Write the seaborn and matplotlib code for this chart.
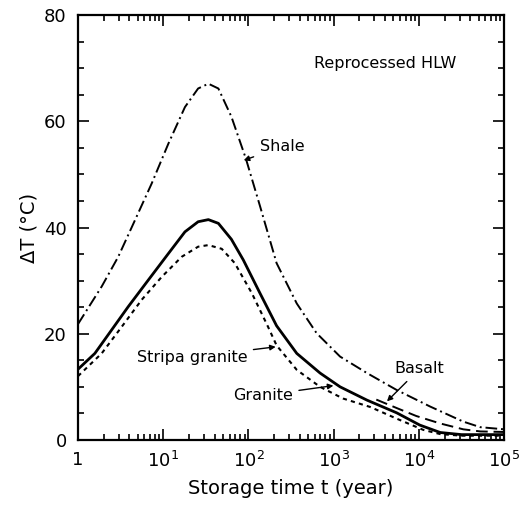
import numpy as np
import pandas as pd
import matplotlib
matplotlib.use("Agg")
import matplotlib.pyplot as plt
import seaborn as sns
from matplotlib.ticker import LogLocator, MultipleLocator, NullFormatter

sns.set_theme(style="ticks")
plt.rcParams['font.family'] = ['DejaVu Sans']
plt.rcParams['text.color'] = 'black'
plt.rcParams['axes.labelcolor'] = 'black'

# Data
shale_t = [1, 1.9, 2.97, 4.67, 7.33, 11.5, 18.0, 25.7, 33.9, 44.4, 63.1, 93.3, 137, 214,
           369, 631, 1189, 2455, 5495, 13490, 33110, 52480, 100000]
shale_dT = [21.8, 28.9, 34.5, 41.4, 48.3, 55.8, 62.7, 66.2, 67.1, 66.2, 60.9, 53.0, 44.0, 33.3,
            25.7, 20.1, 15.7, 12.6, 9.4, 6.3, 3.45, 2.4, 2.0]

granite_t = [1, 1.58, 2.48, 3.89, 6.68, 11.5, 18.0, 25.7, 33.9, 44.4, 63.1, 87.1, 137, 214,
             369, 692, 1189, 2455, 5495, 10230, 17780, 31620, 100000]
granite_dT = [13.3, 16.3, 20.7, 25.1, 30.1, 35.1, 39.2, 41.1, 41.5, 40.8, 37.8, 33.9, 27.6, 21.5,
              16.3, 12.6, 10.0, 7.5, 5.1, 2.8, 1.4, 1.0, 1.0]

stripa_t = [1, 1.9, 3.26, 5.6, 9.6, 16.5, 25.7, 33.9, 48.6, 69.2, 110, 170, 214, 369,
            692, 1288, 2692, 5495, 11220, 17780, 31620, 100000]
stripa_dT = [12.0, 16.3, 21.3, 26.4, 30.7, 34.5, 36.4, 36.7, 36.0, 33.3, 27.6, 21.3, 17.8, 13.2,
             10.0, 7.8, 6.2, 4.0, 1.9, 1.1, 0.8, 0.8]

basalt_t = [3162, 5495, 9333, 17780, 33110, 52480, 100000]
basalt_dT = [7.6, 6.0, 4.5, 3.1, 2.0, 1.6, 1.5]

fig = plt.figure(figsize=(5.23, 5.08), dpi=100)
ax = fig.add_axes([0.149, 0.134, 0.815, 0.836])

def draw(t, v, **kw):
    df = pd.DataFrame({"t": t, "dT": v})
    sns.lineplot(data=df, x="t", y="dT", ax=ax, color="black", **kw)

draw(shale_t, shale_dT, linestyle=(0, (6, 2, 1, 2)), linewidth=1.4)
draw(granite_t, granite_dT, linestyle="-", linewidth=2.0)
draw(stripa_t, stripa_dT, linestyle=(0, (2, 2)), linewidth=1.5)
draw(basalt_t, basalt_dT, linestyle=(0, (6, 3)), linewidth=1.4)

ax.set_xscale("log")
ax.set_xlim(1, 1e5)
ax.set_ylim(0, 80)
ax.set_xticks([1, 10, 100, 1000, 1e4, 1e5])
ax.set_xticklabels(["1", r"$10^1$", r"$10^2$", r"$10^3$", r"$10^4$", r"$10^5$"])
ax.xaxis.set_minor_locator(LogLocator(base=10, subs=np.arange(2, 10), numticks=20))
ax.xaxis.set_minor_formatter(NullFormatter())
ax.yaxis.set_major_locator(MultipleLocator(20))
ax.yaxis.set_minor_locator(MultipleLocator(5))

ax.tick_params(which="both", direction="in", top=True, right=True, width=1.2, colors="black")
ax.tick_params(which="major", length=8, labelsize=13, pad=8)
ax.tick_params(which="minor", length=4)
for s in ax.spines.values():
    s.set_linewidth(1.6)
    s.set_color("black")

ax.set_xlabel("Storage time t (year)", fontsize=14, labelpad=6)
ax.set_ylabel("ΔT (°C)", fontsize=14, labelpad=4)

arrow = dict(arrowstyle="-|>", color="black", lw=1, mutation_scale=8)
ax.text(4000, 71.0, "Reprocessed HLW", fontsize=11.5, ha="center", va="center")
ax.annotate("Shale", xy=(82, 52.5), xytext=(135, 55.2), fontsize=11.5, va="center", arrowprops=arrow)
ax.annotate("Stripa granite", xy=(225, 17.6), xytext=(4.9, 15.6), fontsize=11.5, va="center", arrowprops=arrow)
ax.annotate("Granite", xy=(1070, 10.3), xytext=(66, 8.4), fontsize=11.5, va="center", arrowprops=arrow)
ax.annotate("Basalt", xy=(4000, 6.9), xytext=(5200, 13.4), fontsize=11.5, va="center", arrowprops=arrow)

fig.savefig("out.png", dpi=100)
